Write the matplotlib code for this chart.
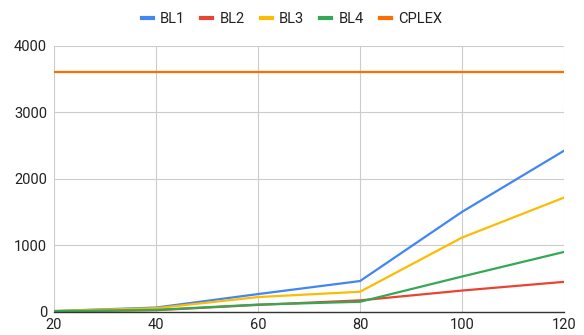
import matplotlib.pyplot as plt

plt.rcParams['font.family'] = ['Roboto', 'DejaVu Sans']

# 資料
x = [20, 40, 60, 80, 100, 120]
bl1 = [8, 60, 263, 459, 1500, 2420]
bl2 = [5, 20, 100, 168, 316, 447]
bl3 = [8, 50, 218, 298, 1113, 1715]
bl4 = [5, 25, 105, 147, 527, 897]
cplex = [3600, 3600, 3600, 3600, 3600, 3600]

series = [('BL1', bl1, '#4285F4'),
          ('BL2', bl2, '#EA4335'),
          ('BL3', bl3, '#FBBC04'),
          ('BL4', bl4, '#34A853'),
          ('CPLEX', cplex, '#FF6D01')]

fig = plt.figure(figsize=(5.84, 3.35), dpi=100)
ax = fig.add_axes([0.0925, 0.070, 0.8733, 0.7935])

for name, vals, color in series:
    ax.plot(x, vals, color=color, linewidth=1.6, label=name)

ax.set_xlim(20, 120)
ax.set_ylim(0, 4000)
ax.set_xticks([20, 40, 60, 80, 100, 120])
ax.set_yticks([0, 1000, 2000, 3000, 4000])
ax.grid(True, color='#cccccc', linewidth=0.8)
ax.set_axisbelow(True)
for side in ['left', 'right', 'top']:
    ax.spines[side].set_visible(False)
ax.spines['bottom'].set_color('#333333')
ax.spines['bottom'].set_linewidth(1.0)
ax.tick_params(length=0, labelsize=10.5, colors='#222222')
ax.tick_params(axis='y', pad=5)
ax.tick_params(axis='x', pad=5)

fig.legend(loc='center', bbox_to_anchor=(0.5, 0.943), ncol=5, frameon=False,
           fontsize=10.5, handlelength=0.75, handletextpad=0.5, columnspacing=1.1,
           labelcolor='#222222')
for line in fig.legends[0].get_lines():
    line.set_linewidth(3)

fig.savefig('out.png', dpi=100)
plt.close(fig)
